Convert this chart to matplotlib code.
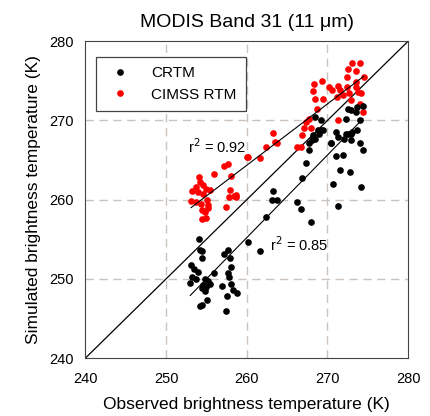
import numpy as np
import matplotlib.pyplot as plt

plt.rcParams["font.family"] = ["Liberation Sans", "DejaVu Sans"]

# observed / simulated brightness temperature (K)
crtm_obs = [254.1, 254.2, 254.5, 254.4, 253.1, 253.5, 253.9, 253.2, 253.0, 253.7,
            254.8, 255.2, 254.6, 255.0, 255.4, 255.9, 254.5, 254.8, 255.1, 254.5,
            254.2, 257.2, 257.7, 257.9, 258.0, 257.7, 257.8, 256.9, 258.0, 258.3,
            258.8, 257.6, 257.4,
            260.2, 261.7, 263.3, 263.1, 263.7, 262.4, 266.2, 266.7, 267.9, 266.9,
            267.3, 267.7,
            267.7, 268.1, 268.5, 269.0, 269.2, 269.4, 268.5, 269.2, 270.4, 270.5,
            271.0, 271.3, 272.1, 272.3, 272.9, 272.5, 273.1, 273.7, 272.9, 274.0,
            274.4, 271.0, 271.9, 271.5, 272.8, 270.7, 274.1, 271.3, 272.3, 274.0,
            272.5, 272.9, 273.5, 273.7, 274.4, 268.8, 268.2]
crtm_sim = [255.0, 253.7, 253.5, 252.6, 251.7, 251.3, 250.9, 250.3, 249.5, 250.0,
            250.0, 249.8, 249.2, 249.0, 249.4, 250.8, 248.8, 248.5, 247.4, 246.7,
            246.6, 253.1, 253.7, 252.6, 251.5, 250.7, 250.3, 249.1, 249.3, 248.6,
            248.2, 247.9, 245.9,
            254.7, 253.5, 261.1, 259.9, 260.0, 257.8, 259.7, 258.8, 257.2, 262.7,
            264.6, 266.3,
            267.1, 267.5, 267.7, 268.3, 268.8, 268.8, 270.4, 270.1, 267.1, 267.1,
            268.5, 267.9, 267.6, 268.3, 268.3, 268.3, 268.5, 268.8, 267.5, 267.1,
            266.3, 265.5, 265.6, 263.8, 263.5, 262.0, 261.6, 259.2, 270.2, 270.0,
            271.5, 271.3, 271.1, 271.7, 271.8, 268.8, 268.1]

cimss_obs = [260.0, 257.7, 257.2, 256.0, 254.1, 258.1, 254.2, 254.6, 253.7, 253.2,
             254.0, 254.6, 255.0, 255.5, 257.9, 258.7, 257.8, 253.1, 253.7, 254.3,
             255.1, 255.2, 254.4, 254.8, 255.2, 254.4, 254.9, 257.4, 258.7, 258.4,
             261.7, 262.4, 263.3, 263.5, 263.7, 260.1,
             266.2, 266.7, 266.9, 267.3, 267.7, 267.9, 268.7, 267.1, 271.3, 268.3,
             269.3, 268.2, 268.5, 269.4, 270.2, 270.6, 271.3, 271.5, 271.9, 272.4,
             273.5, 273.5, 272.4, 272.5, 273.5, 273.1, 274.0, 274.5, 272.9, 274.0,
             274.4, 274.2, 272.7, 271.2, 273.8]
cimss_sim = [265.4, 264.5, 264.2, 263.2, 262.9, 263.0, 262.2, 261.8, 261.6, 261.1,
             261.0, 260.7, 261.3, 261.2, 261.2, 260.6, 260.4, 259.8, 259.7, 259.5,
             260.0, 259.3, 258.7, 258.5, 258.9, 257.6, 257.7, 259.1, 260.3, 260.5,
             265.2, 266.6, 268.4, 267.3, 267.2, 265.4,
             266.7, 266.7, 268.1, 269.8, 270.2, 269.0, 271.5, 269.0, 270.0, 274.6,
             275.0, 273.7, 272.7, 272.7, 274.2, 273.9, 274.4, 273.8, 273.2, 274.2,
             274.2, 274.8, 275.5, 276.5, 276.3, 277.3, 277.2, 275.5, 272.6, 272.1,
             271.1, 273.4, 273.4, 273.0, 273.6]

ticks = [240, 250, 260, 270, 280]
r2_labels = ["r$^2$ = 0.85", "r$^2$ = 0.92"]

fig = plt.figure(figsize=(4.31, 4.16), dpi=100)
ax = fig.add_axes([0.198, 0.139, 0.749, 0.762])

for v in ticks[1:-1]:
    ax.axvline(v, color="#cbc3bd", ls=(0, (6, 4)), lw=1.0, zorder=0)
    ax.axhline(v, color="#cbc3bd", ls=(0, (6, 4)), lw=1.0, zorder=0)

ax.plot(ticks, ticks, color="black", lw=0.9, zorder=1)

ax.plot(crtm_obs, crtm_sim, "o", color="black", ms=4.8, mec="none", label="CRTM", zorder=3)
ax.plot(cimss_obs, cimss_sim, "o", color="red", ms=4.8, mec="none", label="CIMSS RTM", zorder=2)

# least-squares lines
for xs, ys in [(crtm_obs, crtm_sim), (cimss_obs, cimss_sim)]:
    xs = np.asarray(xs)
    p = np.polyfit(xs, ys, 1)
    xx = np.array([xs.min(), xs.max()])
    ax.plot(xx, np.polyval(p, xx), color="black", lw=0.8, zorder=4)

ax.text(262.9, 254.3, r2_labels[0], fontsize=10.5, va="center")
ax.text(252.7, 266.7, r2_labels[1], fontsize=10.5, va="center")

ax.set_xlim(240, 280)
ax.set_ylim(240, 280)
ax.set_xticks(ticks)
ax.set_yticks(ticks)
ax.tick_params(length=0, labelsize=10.5, pad=8)
ax.tick_params(axis="x", pad=10)
for s in ax.spines.values():
    s.set_color("#444444")

ax.set_title("MODIS Band 31 (11 \u03bcm)", fontsize=14, pad=10)
ax.set_xlabel("Observed brightness temperature (K)", fontsize=12.5, labelpad=8)
ax.set_ylabel("Simulated brightness temperature (K)", fontsize=12.5, labelpad=6)

leg = ax.legend(loc="upper left", bbox_to_anchor=(0.033, 0.95), fontsize=11,
                fancybox=False, edgecolor="#444444", framealpha=1,
                borderpad=0.6, handletextpad=1.0, borderaxespad=0)
leg.get_frame().set_linewidth(0.9)

fig.savefig("out.png", dpi=100)
